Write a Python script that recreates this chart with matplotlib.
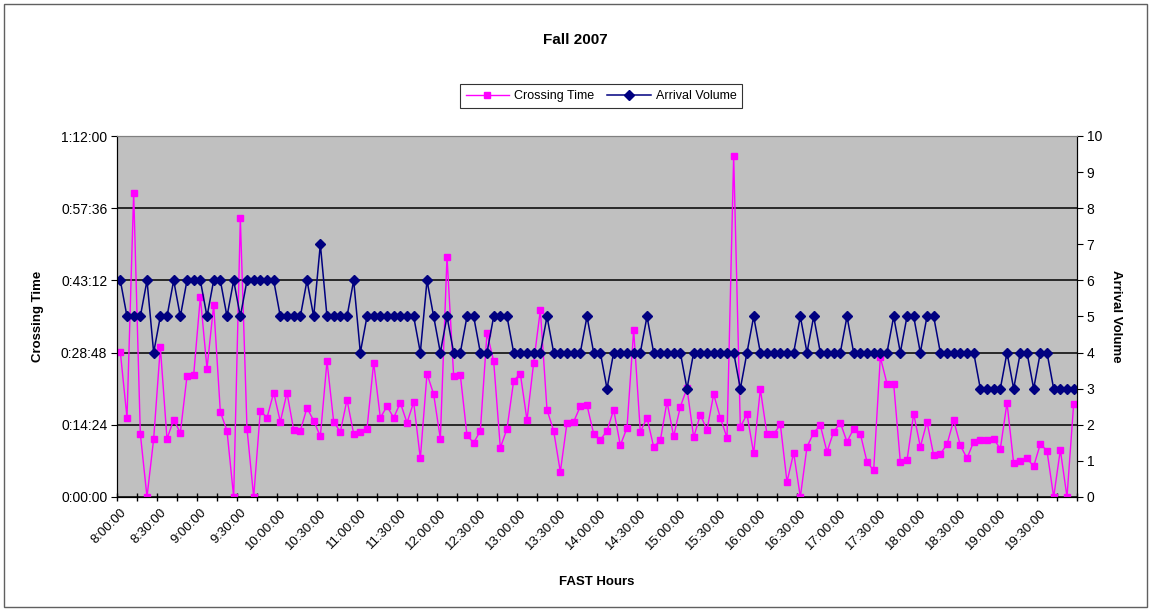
import matplotlib
matplotlib.use("Agg")
import matplotlib.pyplot as plt
from matplotlib.patches import Rectangle
from matplotlib.ticker import FuncFormatter, MultipleLocator
import numpy as np

plt.rcParams['font.family'] = ['Liberation Sans', 'DejaVu Sans']

# 5-minute slots from 8:00 to 19:55 (144 categories), labelled every 30 minutes
tick_labels = ["8:00:00", "8:30:00", "9:00:00", "9:30:00", "10:00:00", "10:30:00",
               "11:00:00", "11:30:00", "12:00:00", "12:30:00", "13:00:00", "13:30:00",
               "14:00:00", "14:30:00", "15:00:00", "15:30:00", "16:00:00", "16:30:00",
               "17:00:00", "17:30:00", "18:00:00", "18:30:00", "19:00:00", "19:30:00"]

# crossing time, minutes
crossing_time = [
    28.9, 15.8, 60.7, 12.6, 0.0, 11.6, 29.9, 11.6, 15.4, 12.8, 24.1, 24.3,
    39.9, 25.6, 38.3, 17.0, 13.2, 0.0, 55.6, 13.6, 0.0, 17.2, 15.8, 20.8,
    15.0, 20.8, 13.4, 13.2, 17.8, 15.2, 12.1, 27.1, 15.0, 13.0, 19.4, 12.6,
    13.0, 13.6, 26.8, 15.8, 18.1, 15.8, 18.8, 14.8, 18.9, 7.7, 24.6, 20.5,
    11.6, 47.9, 24.1, 24.3, 12.3, 10.8, 13.2, 32.7, 27.1, 9.8, 13.6, 23.2,
    24.6, 15.3, 26.8, 37.3, 17.4, 13.2, 5.0, 14.8, 15.0, 18.1, 18.3, 12.6,
    11.4, 13.2, 17.4, 10.3, 13.8, 33.3, 13.0, 15.8, 10.0, 11.3, 19.0, 12.1,
    18.0, 21.7, 11.9, 16.4, 13.4, 20.5, 15.8, 11.8, 68.0, 14.0, 16.5, 8.7,
    21.5, 12.5, 12.5, 14.5, 3.0, 8.8, 0.0, 10.0, 12.8, 14.3, 9.0, 13.0,
    14.8, 11.0, 13.6, 12.6, 7.0, 5.3, 27.9, 22.6, 22.6, 7.0, 7.3, 16.6,
    10.0, 15.0, 8.3, 8.6, 10.5, 15.3, 10.3, 7.7, 11.0, 11.3, 11.3, 11.6,
    9.6, 18.8, 6.7, 7.2, 7.7, 6.1, 10.6, 9.2, 0.0, 9.4, 0.0, 18.6,
]

arrival_volume = [
    6, 5, 5, 5, 6, 4, 5, 5, 6, 5, 6, 6, 6, 5, 6, 6, 5, 6, 5,
    6, 6, 6, 6, 6, 5, 5, 5, 5, 6, 5, 7, 5, 5, 5, 5, 6,
    4, 5, 5, 5, 5, 5, 5, 5, 5, 4, 6, 5, 4, 5, 4, 4, 5, 5,
    4, 4, 5, 5, 5, 4, 4, 4, 4, 4, 5, 4, 4, 4, 4, 4, 5, 4,
    4, 3, 4, 4, 4, 4, 4, 5, 4, 4, 4, 4, 4, 3, 4, 4, 4, 4,
    4, 4, 4, 3, 4, 5, 4, 4, 4, 4, 4, 4, 5, 4, 5, 4, 4, 4,
    4, 5, 4, 4, 4, 4, 4, 4, 5, 4, 5, 5, 4, 5, 5, 4, 4, 4,
    4, 4, 4, 3, 3, 3, 3, 4, 3, 4, 4, 3, 4, 4, 3, 3, 3, 3,
]

x = np.arange(len(crossing_time))


def hms(v, pos):
    s = int(round(v * 60))
    return "%d:%02d:%02d" % (s // 3600, s % 3600 // 60, s % 60)


fig = plt.figure(figsize=(11.51, 6.11), dpi=100)
fig.patches.append(Rectangle((4 / 1151, 4 / 611), 1143 / 1151, 603 / 611,
                             transform=fig.transFigure, fill=False,
                             edgecolor='#606060', lw=1))

ax = fig.add_axes([117 / 1151, 1 - 497 / 611, 960 / 1151, 361 / 611])
ax.set_facecolor('#C0C0C0')
ax2 = ax.twinx()

l1, = ax.plot(x, crossing_time, color='#FF00FF', lw=1, marker='s', markersize=5,
              label='Crossing Time')
l2, = ax2.plot(x, arrival_volume, color='#000080', lw=1.1, marker='D', markersize=4.8,
               label='Arrival Volume')

ax.set_xlim(-0.5, len(x) - 0.5)
ax.set_ylim(0, 72)
ax.yaxis.set_major_locator(MultipleLocator(14.4))
ax.yaxis.set_major_formatter(FuncFormatter(hms))
ax.grid(axis='y', color='black', lw=1.1)
ax.set_axisbelow(True)

ax2.set_ylim(0, 10)
ax2.yaxis.set_major_locator(MultipleLocator(1))

ax.set_xticks(x[::6])
ax.set_xticklabels(tick_labels, rotation=45, ha='right', va='top',
                   rotation_mode='anchor', fontsize=9.5)
ax.set_xticks(np.arange(-0.5, len(x), 3), minor=True)
ax.tick_params(axis='x', which='major', length=0, pad=7)
ax.tick_params(axis='x', which='minor', direction='inout', length=6, width=1)
ax.tick_params(axis='y', direction='out', length=4, pad=3, labelsize=10)
ax2.tick_params(axis='y', direction='out', length=4, pad=3, labelsize=10)

for a in (ax, ax2):
    a.spines['top'].set_color('#808080')
    a.spines['left'].set_color('black')
    a.spines['right'].set_color('black')
    a.spines['bottom'].set_color('black')

ax.set_ylabel('Crossing Time', fontsize=9.5, fontweight='bold')
ax.yaxis.set_label_coords(-0.076, 0.5)
ax2.set_ylabel('Arrival Volume', fontsize=9.5, fontweight='bold', rotation=-90)
ax2.yaxis.set_label_coords(1.047, 0.5)
ax.set_xlabel('FAST Hours', fontsize=9.5, fontweight='bold')
ax.xaxis.set_label_coords(0.5, -0.22)

fig.text(0.5, 1 - 40 / 611, 'Fall 2007', ha='center', va='center',
         fontsize=11, fontweight='bold')

leg = fig.legend([l1, l2], ['Crossing Time', 'Arrival Volume'], ncol=2,
                 loc='center', bbox_to_anchor=(601 / 1151, 1 - 96 / 611),
                 fontsize=9, frameon=True, fancybox=False, handlelength=3.5,
                 borderpad=0.45, columnspacing=1.0, handletextpad=0.4)
leg.get_frame().set_edgecolor('black')
leg.get_frame().set_linewidth(0.8)

fig.savefig('out.png', dpi=100)
